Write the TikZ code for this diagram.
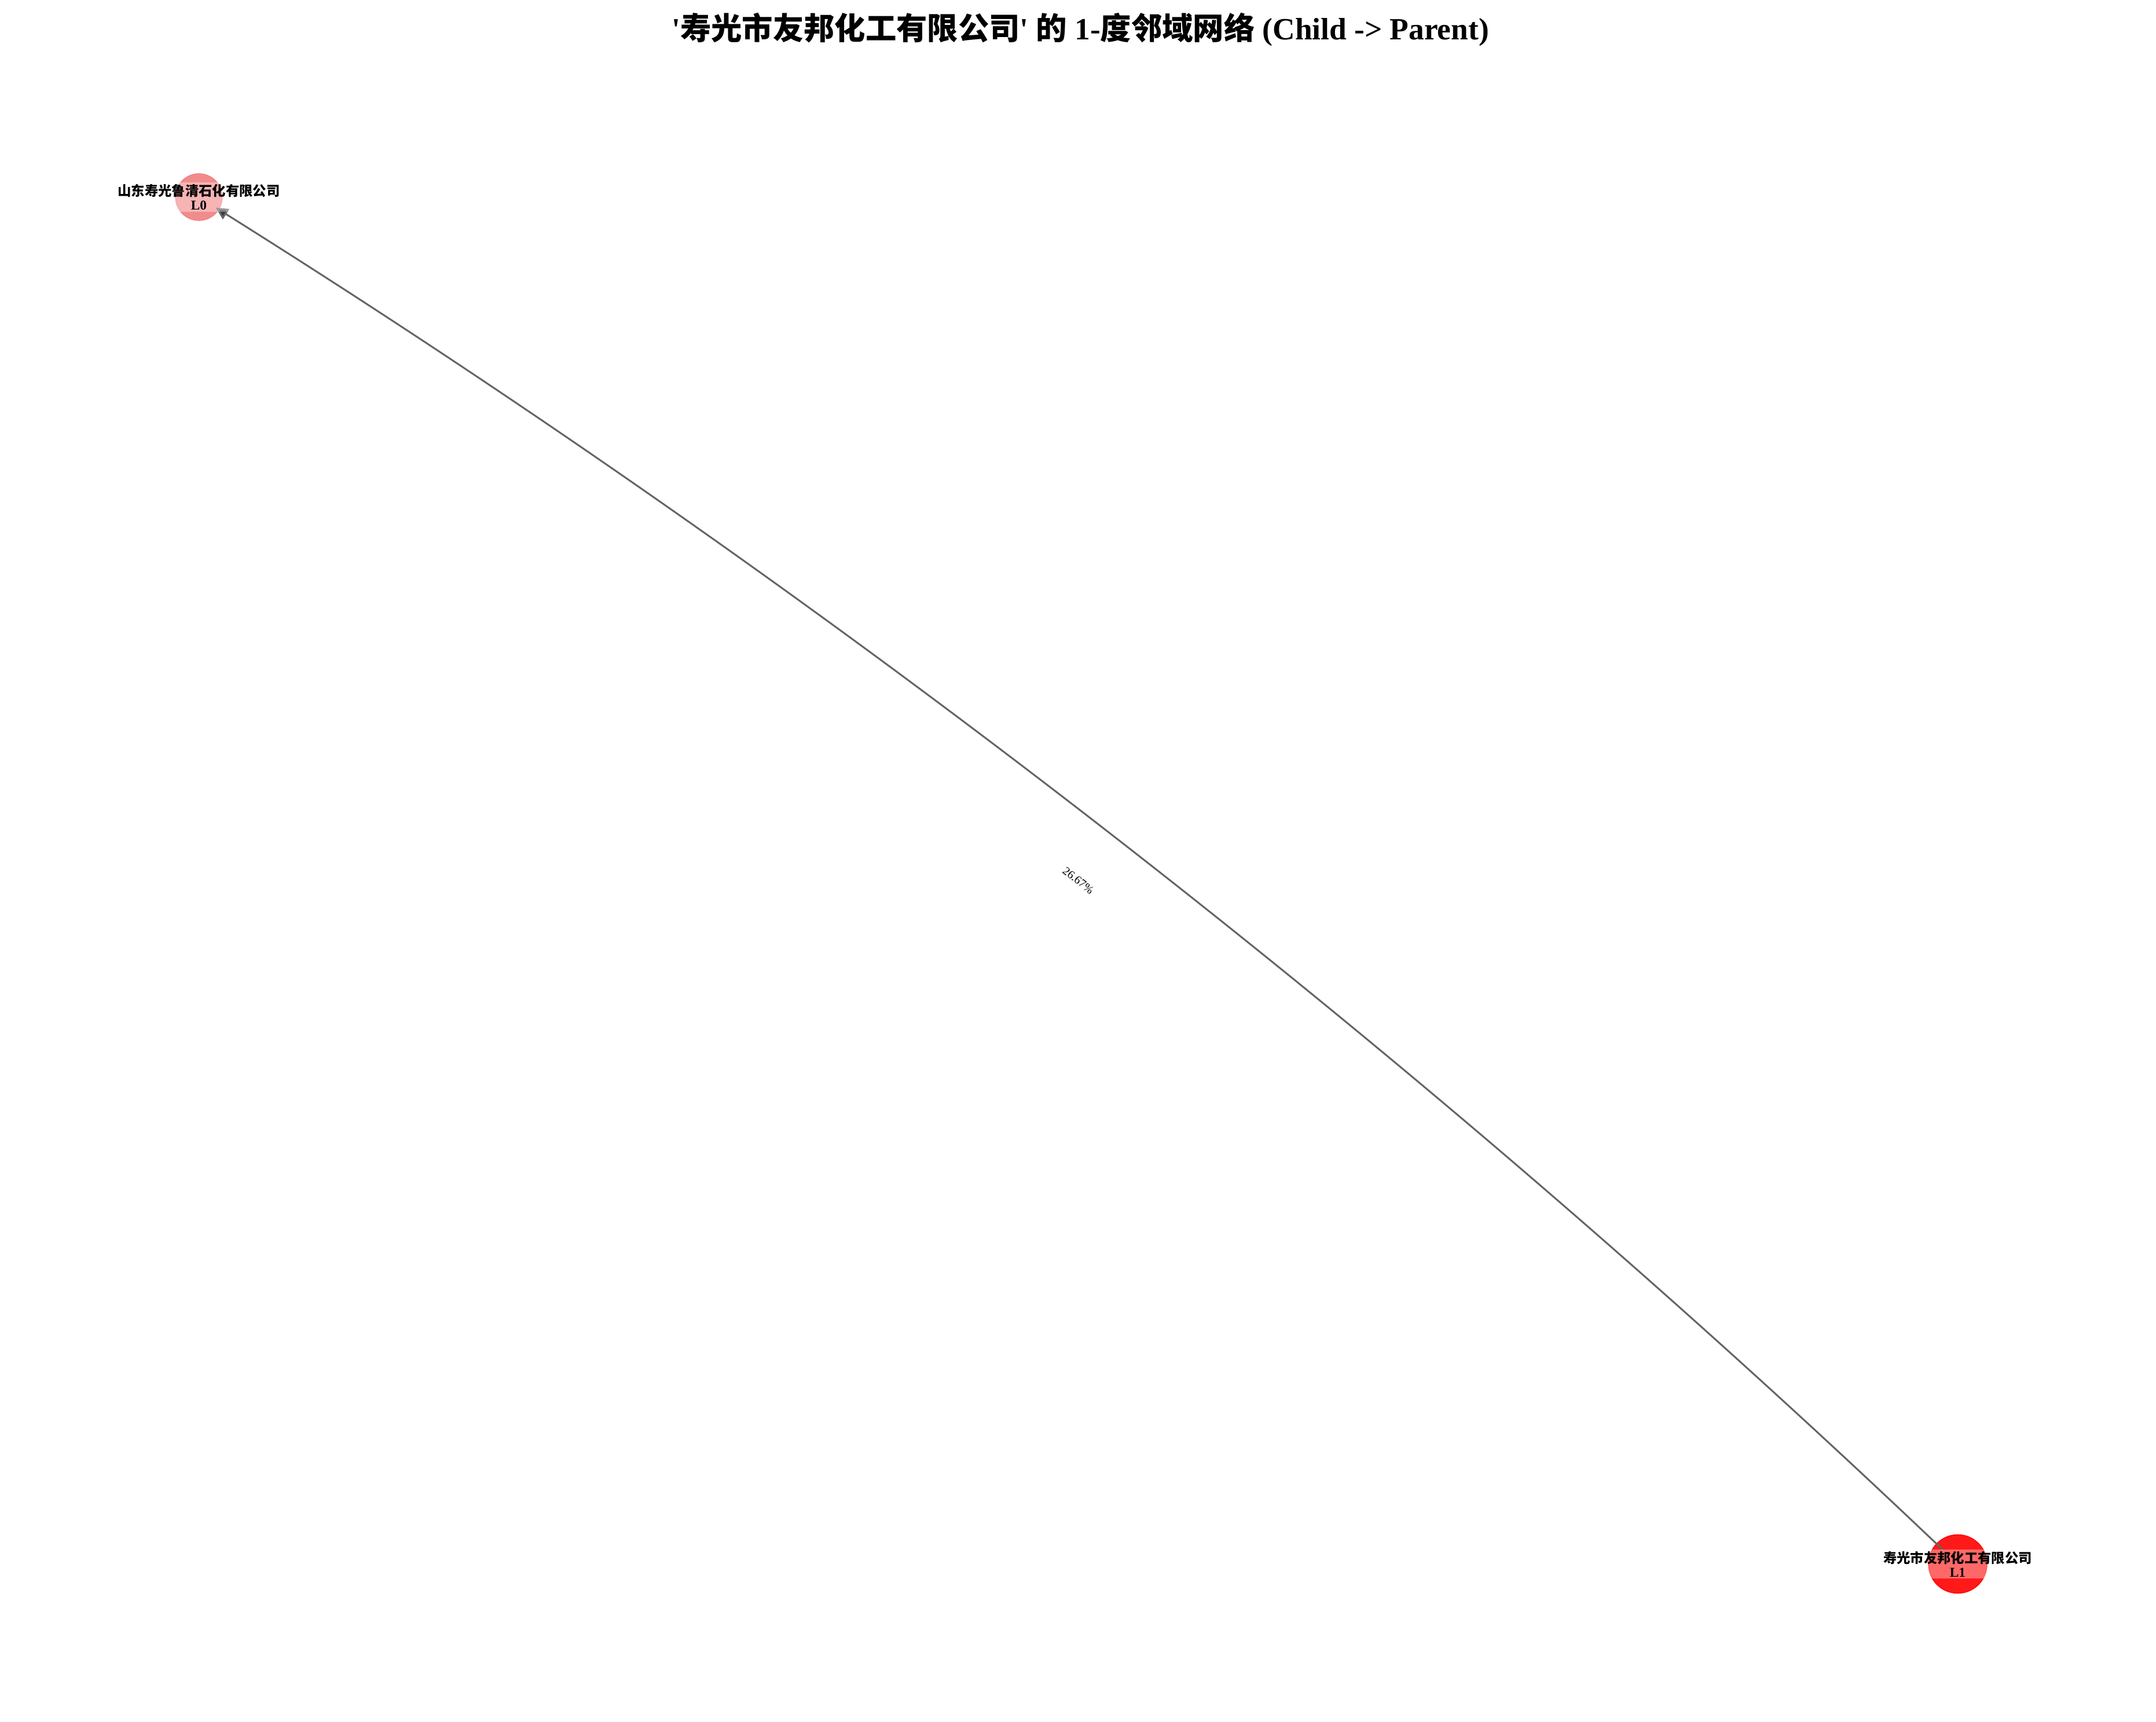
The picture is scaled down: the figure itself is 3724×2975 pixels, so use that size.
\documentclass[tikz,border=0pt]{standalone}
\usepackage{fontspec}
\setmainfont{Liberation Serif}[Ligatures=TeXOff]
\newfontfamily\cjk{Noto Sans CJK SC}
\usetikzlibrary{arrows.meta,calc}
\definecolor{nodeA}{HTML}{F08080}
\definecolor{nodeB}{HTML}{FF0000}
\definecolor{edgec}{RGB}{100,100,100}
\definecolor{tipc}{RGB}{60,60,60}
\begin{document}
\begin{tikzpicture}[x=0.3pt,y=-0.3pt,
  company/.style={circle, inner sep=0pt, outer sep=0pt, fill opacity=0.9, draw opacity=0.9, line width=0.5pt},
  namelabel/.style={align=center, font=\bfseries\fontsize{7}{7.2}\selectfont, fill=white, fill opacity=0.35, text opacity=1, inner xsep=1pt, inner ysep=1pt},
  edgeline/.style={draw=edgec, line width=0.9pt, -{Triangle[length=6.4pt,width=6.2pt,fill=tipc]}},
  pct/.style={font=\fontsize{6}{7}\selectfont, inner sep=1pt},
  titletext/.style={font=\bfseries\fontsize{16}{19}\selectfont, inner sep=0pt}]
\useasboundingbox (0,0) rectangle (3724,2975);
% nodes
\node[company, fill=nodeA, draw=nodeA, minimum size=24.2pt] (n0) at (343.5,340.5) {};
\node[company, fill=nodeB, draw=nodeB, minimum size=30.3pt] (n1) at (3381.5,2702) {};
% edge (quadratic arc as cubic)
\coordinate (c1) at (2447.8,1812.7);
\coordinate (c2) at (1435.2,1025.5);
\draw[edgeline, shorten <=10.2pt, shorten >=10.3pt] (n1.center) .. controls (c1) and (c2) .. (n0.center);
% edge label
\node[pct, rotate=-37.9] (p) at ($(n0)!0.5!(n1)$) {26.67\%};
% node labels
\node[namelabel] (t0) at (n0) {{\cjk 山东寿光鲁清石化有限公司}\\L0};
\node[namelabel] (t1) at (n1) {{\cjk 寿光市友邦化工有限公司}\\L1};
% title
\node[titletext] (title) at (1866,51) {'{\cjk 寿光市友邦化工有限公司}' {\cjk 的} 1-{\cjk 度邻域网络} (Child -> Parent)};
\end{tikzpicture}
\end{document}
